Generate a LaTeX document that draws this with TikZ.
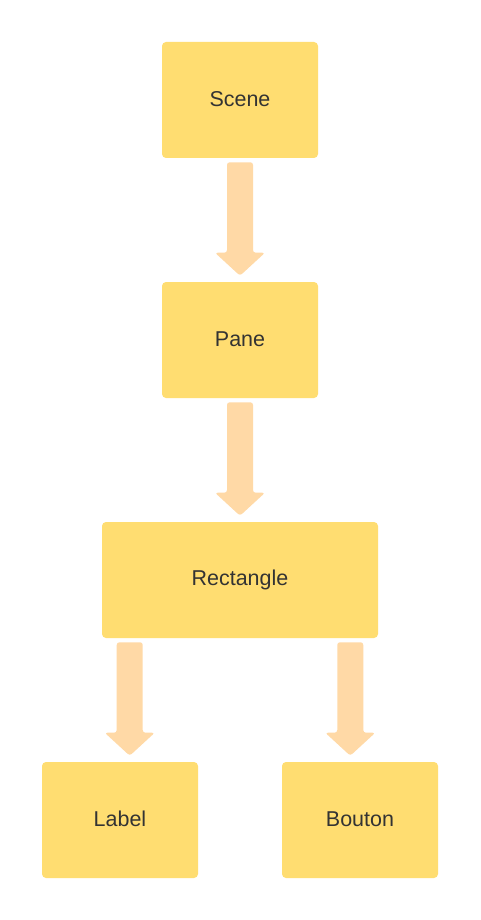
\documentclass[tikz,border=0pt]{standalone}
\usepackage{fontspec}
\setmainfont{Liberation Sans}
\usetikzlibrary{calc}
\definecolor{boxfill}{HTML}{FFDD71}
\definecolor{arrowfill}{HTML}{FFD9A6}
\definecolor{txt}{HTML}{333333}
\tikzset{
  blockbox/.style={rectangle, fill=boxfill, draw=none, rounded corners=3pt,
    minimum height=87pt, text=txt, font=\fontsize{16.1}{18}\selectfont, inner sep=0pt},
  arrowshape/.style={fill=arrowfill, draw=none, rounded corners=2pt}
}
\newcommand\blockarrow[2]{%
  \path[arrowshape] let \p1=(#1), \p2=(#2) in
    (\x1-9.75pt,\y1) -- (\x1+9.75pt,\y1) -- (\x1+9.75pt,\y2+17.25pt)
    -- (\x1+18.75pt,\y2+17.25pt) -- (\x1,\y2) -- (\x1-18.75pt,\y2+17.25pt)
    -- (\x1-9.75pt,\y2+17.25pt) -- cycle;}
\newcommand\lbl[1]{\raisebox{1.5pt}{#1}}
\begin{document}
\begin{tikzpicture}[x=0.75pt,y=-0.75pt]
\useasboundingbox[fill=white] (0,0) rectangle (480,920);
\node[blockbox, minimum width=117pt] (scene) at (240,100) {\lbl{Scene}};
\node[blockbox, minimum width=117pt] (pane) at (240,340) {\lbl{Pane}};
\node[blockbox, minimum width=207pt] (rect) at (240,580) {\lbl{Rectangle}};
\node[blockbox, minimum width=117pt] (label) at (120,820) {\lbl{Label}};
\node[blockbox, minimum width=117pt] (bouton) at (360,820) {\lbl{Bouton}};
\blockarrow{$(scene.south)+(0,4)$}{$(pane.north)+(0,-6)$}
\blockarrow{$(pane.south)+(0,4)$}{$(rect.north)+(0,-6)$}
\blockarrow{$(rect.south west)+(28,4)$}{$(label.north)+(10,-6)$}
\blockarrow{$(rect.south east)+(-28,4)$}{$(bouton.north)+(-10,-6)$}
\end{tikzpicture}
\end{document}
